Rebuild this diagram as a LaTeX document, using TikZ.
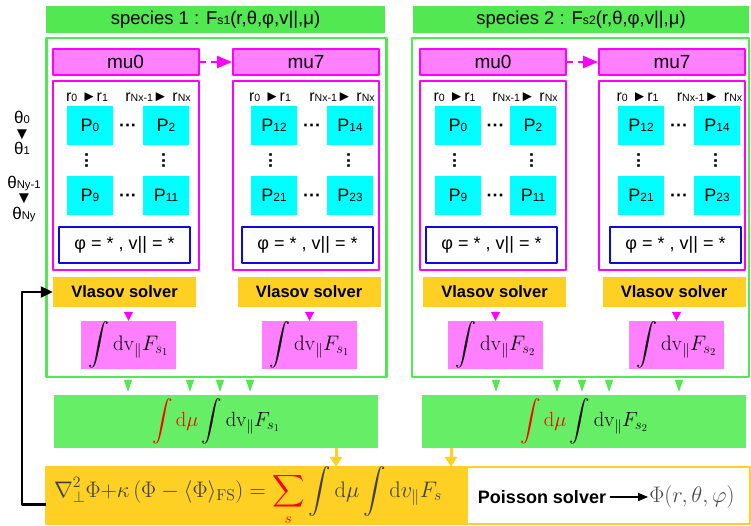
\RequirePackage{fix-cm}
\documentclass[tikz,border=0pt]{standalone}
\usepackage{amsmath,amssymb,graphicx}
\usepackage[no-math]{fontspec}
\setmainfont{Liberation Sans}
\usetikzlibrary{arrows.meta}
\definecolor{hdrgreen}{RGB}{82,232,82}
\definecolor{sumgreen}{RGB}{102,238,102}
\definecolor{mumag}{RGB}{255,0,255}
\definecolor{mulight}{RGB}{255,128,255}
\definecolor{pcyan}{RGB}{0,255,255}
\definecolor{phiblue}{RGB}{10,10,230}
\definecolor{solvyel}{RGB}{253,208,35}
\newcommand{\lo}[1]{\scalebox{0.66}{#1}}
\newcommand{\tri}{\scalebox{0.95}{►}}
\newcommand{\trd}{\scalebox{1.0}{▼}}
\newcommand{\hdot}{\textbf{···}}
\newcommand{\vdot}{\rotatebox{90}{\textbf{···}}}
\tikzset{
hdr/.style={fill=hdrgreen,minimum height=27pt,inner sep=0pt,font=\fontsize{18.5}{20}\selectfont},
spbox/.style={draw=hdrgreen,line width=2.5pt,minimum height=339pt},
mubox/.style={draw=mumag,fill=mulight,line width=2pt,minimum width=146pt,minimum height=26pt,inner sep=0pt,font=\fontsize{19}{20}\selectfont},
grpbox/.style={draw=mumag,line width=2pt,minimum width=146pt,minimum height=189pt},
pbox/.style={fill=pcyan,minimum width=46pt,minimum height=39pt,inner sep=0pt,font=\fontsize{18}{20}\selectfont},
dotsl/.style={font=\fontsize{18}{20}\selectfont,inner sep=0pt},
rlab/.style={font=\fontsize{16}{16}\selectfont,inner sep=0pt},
phibox/.style={draw=phiblue,line width=2pt,minimum width=131pt,minimum height=36pt,inner sep=0pt,font=\fontsize{18}{20}\selectfont},
vlbox/.style={fill=solvyel,minimum width=143pt,minimum height=30pt,inner sep=0pt,font=\bfseries\fontsize{16.5}{18}\selectfont},
intbox/.style={fill=mulight,minimum width=95pt,minimum height=48pt,inner sep=0pt,font=\fontsize{21}{24}\selectfont},
sumbox/.style={fill=sumgreen,minimum width=324pt,minimum height=53pt,inner sep=0pt,font=\fontsize{20.5}{24}\selectfont},
thlab/.style={align=center,inner sep=0pt,font=\fontsize{17}{15.5}\selectfont},
dasharr/.style={draw=mumag,line width=2.5pt,dash pattern=on 6pt off 5pt,-{Triangle[length=15pt,width=12pt]}},
mtip/.style={draw=mumag,line width=1pt,shorten <=5pt,-{Triangle[length=9pt,width=9pt]}},
gtip/.style={draw=hdrgreen,line width=1pt,shorten <=3pt,shorten >=3pt,-{Triangle[length=12pt,width=8pt]}},
ytip/.style={draw=solvyel,line width=3pt,-{Triangle[length=10pt,width=12pt]}},
fbarr/.style={draw=black,line width=2.2pt,-{Triangle[length=12pt,width=11pt]}}
}
\begin{document}
\begin{tikzpicture}[x=1pt,y=-1pt,line join=round]
\useasboundingbox (0,0) rectangle (751,525);
\node[hdr,minimum width=339pt] (hdr1) at (215.5,19.5) {species 1 : F\lo{s1}(r,θ,φ,v||,μ)};
\node[hdr,minimum width=336pt] (hdr2) at (581,19.5) {species 2 : F\lo{s2}(r,θ,φ,v||,μ)};
\node[spbox,minimum width=340pt] (sp1) at (216.5,207.5) {};
\node[spbox,minimum width=337pt] (sp2) at (580.5,207.5) {};
\node[thlab] (thA) at (22,133) {θ\lo{0}\\\trd\\θ\lo{1}};
\node[thlab] (thB) at (24,199) {θ\lo{Ny-1}\\\trd\\θ\lo{Ny}};
\node[mubox] (muA) at (125.5,62) {mu0};
\node[mubox] (muB) at (306,62) {mu7};
\node[mubox] (muC) at (493,62) {mu0};
\node[mubox] (muD) at (672,62) {mu7};
\draw[dasharr] (muA) -- (muB);
\draw[dasharr] (muC) -- (muD);
\node[grpbox] (grpA) at (125.5,175.5) {};
\node[grpbox] (grpB) at (306,175.5) {};
\node[grpbox] (grpC) at (493,175.5) {};
\node[grpbox] (grpD) at (672,175.5) {};
\node[rlab] (rA0) at (87,97) {r\lo{0} \tri r\lo{1}};
\node[rlab] (rAN) at (158,97) {r\lo{Nx-1}\tri{} r\lo{Nx}};
\node[rlab] (rB0) at (270,97) {r\lo{0} \tri r\lo{1}};
\node[rlab] (rBN) at (342,97) {r\lo{Nx-1}\tri{} r\lo{Nx}};
\node[rlab] (rC0) at (454.5,97) {r\lo{0} \tri r\lo{1}};
\node[rlab] (rCN) at (525,97) {r\lo{Nx-1}\tri{} r\lo{Nx}};
\node[rlab] (rD0) at (637.5,97) {r\lo{0} \tri r\lo{1}};
\node[rlab] (rDN) at (709.5,97) {r\lo{Nx-1}\tri{} r\lo{Nx}};
\node[pbox] (aP0) at (90,125.5) {P\lo{0}};
\node[pbox] (aP2) at (166,125.5) {P\lo{2}};
\node[pbox] (aP9) at (90,195.5) {P\lo{9}};
\node[pbox] (aP11) at (166,195.5) {P\lo{11}};
\node[pbox] (bP12) at (274,125.5) {P\lo{12}};
\node[pbox] (bP14) at (350,125.5) {P\lo{14}};
\node[pbox] (bP21) at (274,195.5) {P\lo{21}};
\node[pbox] (bP23) at (350,195.5) {P\lo{23}};
\node[pbox] (cP0) at (458,125.5) {P\lo{0}};
\node[pbox] (cP2) at (533,125.5) {P\lo{2}};
\node[pbox] (cP9) at (458,195.5) {P\lo{9}};
\node[pbox] (cP11) at (533,195.5) {P\lo{11}};
\node[pbox] (dP12) at (641,125.5) {P\lo{12}};
\node[pbox] (dP14) at (717,125.5) {P\lo{14}};
\node[pbox] (dP21) at (641,195.5) {P\lo{21}};
\node[pbox] (dP23) at (717,195.5) {P\lo{23}};
\node[dotsl] (aH0) at (128,128) {\hdot};
\node[dotsl] (aH9) at (128,198) {\hdot};
\node[dotsl] (aV0) at (89,160) {\vdot};
\node[dotsl] (aV2) at (166,160) {\vdot};
\node[dotsl] (bH0) at (312,128) {\hdot};
\node[dotsl] (bH9) at (312,198) {\hdot};
\node[dotsl] (bV0) at (273,160) {\vdot};
\node[dotsl] (bV2) at (351,160) {\vdot};
\node[dotsl] (cH0) at (495.5,128) {\hdot};
\node[dotsl] (cH9) at (495.5,198) {\hdot};
\node[dotsl] (cV0) at (457,160) {\vdot};
\node[dotsl] (cV2) at (534,160) {\vdot};
\node[dotsl] (dH0) at (679,128) {\hdot};
\node[dotsl] (dH9) at (679,198) {\hdot};
\node[dotsl] (dV0) at (641,160) {\vdot};
\node[dotsl] (dV2) at (718,160) {\vdot};
\node[phibox] (phiA) at (124.5,245) {φ = * , v|| = *};
\node[phibox] (phiB) at (307.5,245) {φ = * , v|| = *};
\node[phibox] (phiC) at (491.5,245) {φ = * , v|| = *};
\node[phibox] (phiD) at (675.5,245) {φ = * , v|| = *};
\node[vlbox] (vlA) at (124.5,292) {Vlasov solver};
\node[vlbox] (vlB) at (309,292) {Vlasov solver};
\node[vlbox] (vlC) at (494.5,292) {Vlasov solver};
\node[vlbox] (vlD) at (674,292) {Vlasov solver};
\node[intbox] (intA) at (128.5,345) {$\displaystyle\int\mathrm{dv}_{\|}F_{s_1}$};
\node[intbox] (intB) at (309.5,345) {$\displaystyle\int\mathrm{dv}_{\|}F_{s_1}$};
\node[intbox] (intC) at (495.5,345) {$\displaystyle\int\mathrm{dv}_{\|}F_{s_2}$};
\node[intbox] (intD) at (676.5,345) {$\displaystyle\int\mathrm{dv}_{\|}F_{s_2}$};
\draw[mtip] (intA.north |- vlA.south) -- (intA.north);
\draw[mtip] (intB.north |- vlB.south) -- (intB.north);
\draw[mtip] (intC.north |- vlC.south) -- (intC.north);
\draw[mtip] (intD.north |- vlD.south) -- (intD.north);
\node[sumbox] (sum1) at (216,421.5) {$\displaystyle{\color{red}\int\mathrm{d}\mu}\int\mathrm{dv}_{\|}F_{s_1}$};
\node[sumbox] (sum2) at (584,421.5) {$\displaystyle{\color{red}\int\mathrm{d}\mu}\int\mathrm{dv}_{\|}F_{s_2}$};
\draw[gtip] (sp1.south -| 128,0) -- (sum1.north -| 128,0);
\draw[gtip] (sp1.south -| 190,0) -- (sum1.north -| 190,0);
\draw[gtip] (sp1.south -| 220,0) -- (sum1.north -| 220,0);
\draw[gtip] (sp1.south -| 250,0) -- (sum1.north -| 250,0);
\draw[gtip] (sp2.south -| 496,0) -- (sum2.north -| 496,0);
\draw[gtip] (sp2.south -| 557,0) -- (sum2.north -| 557,0);
\draw[gtip] (sp2.south -| 582,0) -- (sum2.north -| 582,0);
\draw[gtip] (sp2.south -| 609,0) -- (sum2.north -| 609,0);
\draw[gtip] (sp2.south -| 679,0) -- (sum2.north -| 679,0);
\node[fill=solvyel,minimum width=422pt,minimum height=57pt] (eq) at (257,495.5) {};
\node[draw=solvyel,line width=2pt,minimum width=704pt,minimum height=57pt] (pois) at (398,495.5) {};
\draw[ytip] (sum1.south -| 336,0) -- (eq.north -| 336,0);
\draw[ytip] (sum2.south -| 451,0) -- (eq.north -| 451,0);
\node[font=\fontsize{22.5}{24}\selectfont,text=black!75] (eqtxt) at (248,496) {$\displaystyle\nabla^2_{\perp}\Phi{+}\kappa\left(\Phi-\langle\Phi\rangle_{\mathrm{FS}}\right)={\color{red}\sum_s}\int\mathrm{d}\mu\int\mathrm{d}v_{\|}F_s$};
\node[font=\bfseries\fontsize{18}{20}\selectfont] (psolv) at (542,497) {Poisson solver};
\node[font=\fontsize{22.5}{24}\selectfont,text=black!70,inner sep=1pt] (phires) at (692,497) {$\Phi(r,\theta,\varphi)$};
\draw[line width=1.5pt,-{Triangle[length=10pt,width=8pt]}] (psolv) -- (phires);
\draw[fbarr] ([yshift=-9pt]eq.west) -- ++(-24,0) |- (vlA.west);
\end{tikzpicture}
\end{document}
